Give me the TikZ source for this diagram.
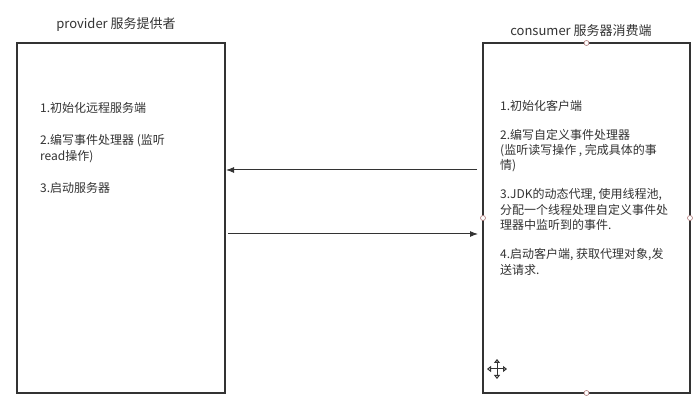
\documentclass[tikz,border=0pt]{standalone}
\usepackage{fontspec}
\setmainfont{Noto Sans CJK SC}
\usetikzlibrary{arrows.meta}
\definecolor{ink}{HTML}{333333}
\definecolor{handle}{HTML}{B07A7A}
\tikzset{
  box/.style={draw=ink, line width=1.4pt},
  txt/.style={anchor=west, inner sep=0pt, text=ink, font=\fontsize{12}{15}\selectfont},
  ttl/.style={inner sep=0pt, text=ink, font=\fontsize{13}{16}\selectfont},
  conn/.style={draw=ink, line width=1pt, -{Latex[length=8pt,width=6pt]}},
  hdl/.style={circle, draw=handle, fill=white, line width=0.6pt, minimum size=5pt, inner sep=0pt},
  mv/.style={ink, line width=1pt, {Triangle[open,length=4pt,width=6pt]}-{Triangle[open,length=4pt,width=6pt]}}
}
\begin{document}
\begin{tikzpicture}[x=1pt,y=-1pt]
\useasboundingbox (0,0) rectangle (697,403);
\fill[white] (0,0) rectangle (697,403);
% boxes
\draw[box] (17,43) rectangle (225,393);
\draw[box] (483,43) rectangle (690,393);
% titles
\node[ttl] (t1) at (116,25) {provider 服务提供者};
\node[ttl] (t2) at (581,31) {consumer 服务器消费端};
% left text
\node[txt] (l1) at (40,108) {1.初始化远程服务端};
\node[txt] (l2) at (40,141) {2.编写事件处理器 (监听};
\node[txt] (l3) at (40,157) {read操作)};
\node[txt] (l4) at (40,188) {3.启动服务器};
% right text
\node[txt] (r1) at (500,106) {1.初始化客户端};
\node[txt] (r2) at (500,135) {2.编写自定义事件处理器};
\node[txt] (r3) at (500,151) {(监听读写操作 , 完成具体的事};
\node[txt] (r4) at (500,166) {情)};
\node[txt] (r5) at (500,195) {3.JDK的动态代理, 使用线程池,};
\node[txt] (r6) at (500,210) {分配一个线程处理自定义事件处};
\node[txt] (r7) at (500,225) {理器中监听到的事件.};
\node[txt] (r8) at (500,255) {4.启动客户端, 获取代理对象,发};
\node[txt] (r9) at (500,270) {送请求.};
% connectors
\coordinate (a1s) at (477,170);
\coordinate (a1e) at (226,170);
\coordinate (a2s) at (228,234);
\coordinate (a2e) at (478,234);
\draw[conn] (a1s) -- (a1e);
\draw[conn] (a2s) -- (a2e);
% selection handles
\node[hdl] (h1) at (586.5,43) {};
\node[hdl] (h2) at (586.5,393) {};
\node[hdl] (h3) at (483,218) {};
\node[hdl] (h4) at (690,218) {};
% move cursor
\coordinate (mc) at (497,369);
\draw[mv] ([xshift=-10pt]mc) -- ([xshift=10pt]mc);
\draw[mv] ([yshift=-10pt]mc) -- ([yshift=10pt]mc);
\end{tikzpicture}
\end{document}
